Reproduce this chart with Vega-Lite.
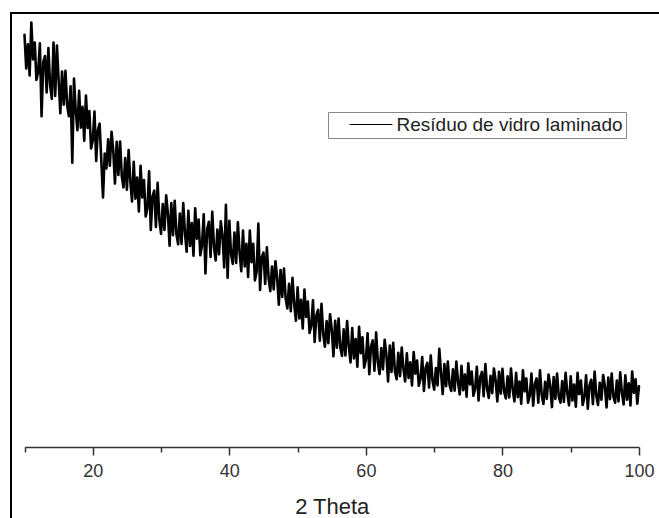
{
  "$schema": "https://vega.github.io/schema/vega-lite/v6.json",
  "autosize": {"type": "none"},
  "width": 660,
  "height": 520,
  "padding": {"left": 11, "top": 13, "right": -12, "bottom": -15},
  "background": "#ffffff",
  "config": {
    "font": "Liberation Sans",
    "view": {"stroke": "#000000", "strokeWidth": 2}
  },
  "data": {"values": [
{"t":10,"i":950},{"t":10.25,"i":872},{"t":10.5,"i":928},{"t":10.75,"i":856},
{"t":11,"i":978},{"t":11.25,"i":893},{"t":11.5,"i":932},{"t":11.75,"i":846},
{"t":12,"i":864},{"t":12.25,"i":930},{"t":12.5,"i":762},{"t":12.75,"i":887},
{"t":13,"i":901},{"t":13.25,"i":817},{"t":13.5,"i":919},{"t":13.75,"i":835},
{"t":14,"i":802},{"t":14.25,"i":932},{"t":14.5,"i":809},{"t":14.75,"i":925},
{"t":15,"i":845},{"t":15.25,"i":769},{"t":15.5,"i":865},{"t":15.75,"i":789},
{"t":16,"i":867},{"t":16.25,"i":787},{"t":16.5,"i":762},{"t":16.75,"i":831},
{"t":17,"i":655},{"t":17.25,"i":849},{"t":17.5,"i":776},{"t":17.75,"i":730},
{"t":18,"i":821},{"t":18.25,"i":736},{"t":18.5,"i":784},{"t":18.75,"i":706},
{"t":19,"i":810},{"t":19.25,"i":735},{"t":19.5,"i":774},{"t":19.75,"i":688},
{"t":20,"i":706},{"t":20.25,"i":773},{"t":20.5,"i":659},{"t":20.75,"i":731},
{"t":21,"i":745},{"t":21.25,"i":660},{"t":21.5,"i":575},{"t":21.75,"i":676},
{"t":22,"i":642},{"t":22.25,"i":709},{"t":22.5,"i":648},{"t":22.75,"i":726},
{"t":23,"i":683},{"t":23.25,"i":607},{"t":23.5,"i":703},{"t":23.75,"i":627},
{"t":24,"i":704},{"t":24.25,"i":624},{"t":24.5,"i":598},{"t":24.75,"i":666},
{"t":25,"i":593},{"t":25.25,"i":684},{"t":25.5,"i":612},{"t":25.75,"i":566},
{"t":26,"i":657},{"t":26.25,"i":572},{"t":26.5,"i":621},{"t":26.75,"i":543},
{"t":27,"i":648},{"t":27.25,"i":575},{"t":27.5,"i":615},{"t":27.75,"i":531},
{"t":28,"i":550},{"t":28.25,"i":635},{"t":28.5,"i":500},{"t":28.75,"i":577},
{"t":29,"i":591},{"t":29.25,"i":507},{"t":29.5,"i":609},{"t":29.75,"i":524},
{"t":30,"i":491},{"t":30.25,"i":560},{"t":30.5,"i":500},{"t":30.75,"i":580},
{"t":31,"i":538},{"t":31.25,"i":464},{"t":31.5,"i":562},{"t":31.75,"i":488},
{"t":32,"i":567},{"t":32.25,"i":490},{"t":32.5,"i":467},{"t":32.75,"i":538},
{"t":33,"i":468},{"t":33.25,"i":562},{"t":33.5,"i":493},{"t":33.75,"i":450},
{"t":34,"i":544},{"t":34.25,"i":463},{"t":34.5,"i":516},{"t":34.75,"i":441},
{"t":35,"i":550},{"t":35.25,"i":480},{"t":35.5,"i":524},{"t":35.75,"i":442},
{"t":36,"i":465},{"t":36.25,"i":536},{"t":36.5,"i":400},{"t":36.75,"i":501},
{"t":37,"i":519},{"t":37.25,"i":438},{"t":37.5,"i":542},{"t":37.75,"i":461},
{"t":38,"i":430},{"t":38.25,"i":501},{"t":38.5,"i":444},{"t":38.75,"i":520},
{"t":39,"i":486},{"t":39.25,"i":414},{"t":39.5,"i":558},{"t":39.75,"i":390},
{"t":40,"i":521},{"t":40.25,"i":445},{"t":40.5,"i":422},{"t":40.75,"i":494},
{"t":41,"i":424},{"t":41.25,"i":518},{"t":41.5,"i":448},{"t":41.75,"i":405},
{"t":42,"i":499},{"t":42.25,"i":416},{"t":42.5,"i":468},{"t":42.75,"i":392},
{"t":43,"i":499},{"t":43.25,"i":426},{"t":43.5,"i":468},{"t":43.75,"i":384},
{"t":44,"i":404},{"t":44.25,"i":515},{"t":44.5,"i":362},{"t":44.75,"i":437},
{"t":45,"i":448},{"t":45.25,"i":376},{"t":45.5,"i":460},{"t":45.75,"i":389},
{"t":46,"i":359},{"t":46.25,"i":416},{"t":46.5,"i":363},{"t":46.75,"i":428},
{"t":47,"i":391},{"t":47.25,"i":328},{"t":47.5,"i":408},{"t":47.75,"i":346},
{"t":48,"i":411},{"t":48.25,"i":342},{"t":48.5,"i":319},{"t":48.75,"i":376},
{"t":49,"i":313},{"t":49.25,"i":390},{"t":49.5,"i":330},{"t":49.75,"i":291},
{"t":50,"i":368},{"t":50.25,"i":296},{"t":50.5,"i":339},{"t":50.75,"i":273},
{"t":51,"i":363},{"t":51.25,"i":300},{"t":51.5,"i":335},{"t":51.75,"i":263},
{"t":52,"i":279},{"t":52.25,"i":338},{"t":52.5,"i":242},{"t":52.75,"i":304},
{"t":53,"i":316},{"t":53.25,"i":245},{"t":53.5,"i":330},{"t":53.75,"i":260},
{"t":54,"i":231},{"t":54.25,"i":290},{"t":54.5,"i":239},{"t":54.75,"i":306},
{"t":55,"i":271},{"t":55.25,"i":209},{"t":55.5,"i":291},{"t":55.75,"i":229},
{"t":56,"i":296},{"t":56.25,"i":230},{"t":56.5,"i":210},{"t":56.75,"i":271},
{"t":57,"i":211},{"t":57.25,"i":290},{"t":57.5,"i":232},{"t":57.75,"i":195},
{"t":58,"i":274},{"t":58.25,"i":204},{"t":58.5,"i":249},{"t":58.75,"i":185},
{"t":59,"i":277},{"t":59.25,"i":216},{"t":59.5,"i":253},{"t":59.75,"i":183},
{"t":60,"i":201},{"t":60.25,"i":262},{"t":60.5,"i":168},{"t":60.75,"i":232},
{"t":61,"i":246},{"t":61.25,"i":176},{"t":61.5,"i":264},{"t":61.75,"i":195},
{"t":62,"i":168},{"t":62.25,"i":228},{"t":62.5,"i":179},{"t":62.75,"i":247},
{"t":63,"i":213},{"t":63.25,"i":151},{"t":63.5,"i":234},{"t":63.75,"i":173},
{"t":64,"i":240},{"t":64.25,"i":175},{"t":64.5,"i":156},{"t":64.75,"i":217},
{"t":65,"i":163},{"t":65.25,"i":229},{"t":65.5,"i":180},{"t":65.75,"i":151},
{"t":66,"i":216},{"t":66.25,"i":159},{"t":66.5,"i":195},{"t":66.75,"i":142},
{"t":67,"i":219},{"t":67.25,"i":169},{"t":67.5,"i":199},{"t":67.75,"i":141},
{"t":68,"i":157},{"t":68.25,"i":207},{"t":68.5,"i":129},{"t":68.75,"i":182},
{"t":69,"i":194},{"t":69.25,"i":137},{"t":69.5,"i":211},{"t":69.75,"i":154},
{"t":70,"i":132},{"t":70.25,"i":182},{"t":70.5,"i":142},{"t":70.75,"i":226},
{"t":71,"i":172},{"t":71.25,"i":122},{"t":71.5,"i":191},{"t":71.75,"i":140},
{"t":72,"i":197},{"t":72.25,"i":143},{"t":72.5,"i":129},{"t":72.75,"i":179},
{"t":73,"i":130},{"t":73.25,"i":197},{"t":73.5,"i":149},{"t":73.75,"i":121},
{"t":74,"i":187},{"t":74.25,"i":131},{"t":74.5,"i":167},{"t":74.75,"i":116},
{"t":75,"i":193},{"t":75.25,"i":144},{"t":75.5,"i":174},{"t":75.75,"i":118},
{"t":76,"i":134},{"t":76.25,"i":185},{"t":76.5,"i":107},{"t":76.75,"i":161},
{"t":77,"i":173},{"t":77.25,"i":117},{"t":77.5,"i":191},{"t":77.75,"i":135},
{"t":78,"i":113},{"t":78.25,"i":164},{"t":78.5,"i":124},{"t":78.75,"i":181},
{"t":79,"i":154},{"t":79.25,"i":105},{"t":79.5,"i":173},{"t":79.75,"i":123},
{"t":80,"i":180},{"t":80.25,"i":127},{"t":80.5,"i":112},{"t":80.75,"i":163},
{"t":81,"i":114},{"t":81.25,"i":181},{"t":81.5,"i":133},{"t":81.75,"i":105},
{"t":82,"i":171},{"t":82.25,"i":115},{"t":82.5,"i":151},{"t":82.75,"i":100},
{"t":83,"i":177},{"t":83.25,"i":128},{"t":83.5,"i":158},{"t":83.75,"i":102},
{"t":84,"i":118},{"t":84.25,"i":169},{"t":84.5,"i":95},{"t":84.75,"i":145},
{"t":85,"i":158},{"t":85.25,"i":102},{"t":85.5,"i":177},{"t":85.75,"i":120},
{"t":86,"i":99},{"t":86.25,"i":150},{"t":86.5,"i":111},{"t":86.75,"i":167},
{"t":87,"i":141},{"t":87.25,"i":92},{"t":87.5,"i":161},{"t":87.75,"i":111},
{"t":88,"i":169},{"t":88.25,"i":116},{"t":88.5,"i":102},{"t":88.75,"i":152},
{"t":89,"i":104},{"t":89.25,"i":171},{"t":89.5,"i":124},{"t":89.75,"i":96},
{"t":90,"i":163},{"t":90.25,"i":107},{"t":90.5,"i":144},{"t":90.75,"i":93},
{"t":91,"i":171},{"t":91.25,"i":122},{"t":91.5,"i":153},{"t":91.75,"i":97},
{"t":92,"i":114},{"t":92.25,"i":165},{"t":92.5,"i":88},{"t":92.75,"i":142},
{"t":93,"i":155},{"t":93.25,"i":99},{"t":93.5,"i":174},{"t":93.75,"i":118},
{"t":94,"i":97},{"t":94.25,"i":148},{"t":94.5,"i":109},{"t":94.75,"i":166},
{"t":95,"i":140},{"t":95.25,"i":91},{"t":95.5,"i":160},{"t":95.75,"i":110},
{"t":96,"i":169},{"t":96.25,"i":116},{"t":96.5,"i":102},{"t":96.75,"i":153},
{"t":97,"i":105},{"t":97.25,"i":172},{"t":97.5,"i":125},{"t":97.75,"i":98},
{"t":98,"i":165},{"t":98.25,"i":109},{"t":98.5,"i":147},{"t":98.75,"i":96},
{"t":99,"i":174},{"t":99.25,"i":125},{"t":99.5,"i":156},{"t":99.75,"i":100},
{"t":100,"i":140}
  ]},
  "mark": {"type": "line", "strokeWidth": 2.6, "strokeJoin": "round", "strokeCap": "round", "interpolate": "linear"},
  "encoding": {
    "x": {
      "field": "t", "type": "quantitative",
      "scale": {"domain": [10, 100], "range": [13.5, 628], "nice": false, "zero": false},
      "axis": {
        "orient": "bottom",
        "offset": -86,
        "values": [10, 20, 30, 40, 50, 60, 70, 80, 90, 100],
        "labelExpr": "datum.value % 20 === 0 ? datum.label : ''",
        "tickSize": {"condition": {"test": "datum.value % 20 === 0", "value": 8}, "value": 5},
        "grid": false,
        "domainColor": "#333333", "domainWidth": 1.5,
        "tickColor": "#333333", "tickWidth": 1.5,
        "labelFontSize": 18, "labelColor": "#333333", "labelPadding": 7,
        "labelFlush": false, "labelOverlap": false,
        "title": "2 Theta", "titleFontSize": 22, "titleFontWeight": "normal",
        "titleColor": "#222222", "titlePadding": 16
      }
    },
    "y": {
      "field": "i", "type": "quantitative",
      "scale": {"domain": [0, 1000], "range": [434, 0], "nice": false, "zero": false},
      "axis": null
    },
    "color": {
      "datum": "Resíduo de vidro laminado",
      "type": "nominal",
      "scale": {"range": ["#000000"]},
      "legend": {
        "orient": "none", "legendX": 317, "legendY": 99,
        "title": null,
        "strokeColor": "#888888", "fillColor": "#ffffff",
        "padding": 3,
        "symbolType": "M-3.9,0H3.9", "symbolSize": 121,
        "symbolStrokeWidth": 1, "symbolStrokeColor": "#333333",
        "symbolOffset": 30.5,
        "labelOffset": 16,
        "labelFontSize": 19, "labelColor": "#222222", "labelLimit": 500,
        "labelFont": "Liberation Sans"
      }
    }
  }
}
